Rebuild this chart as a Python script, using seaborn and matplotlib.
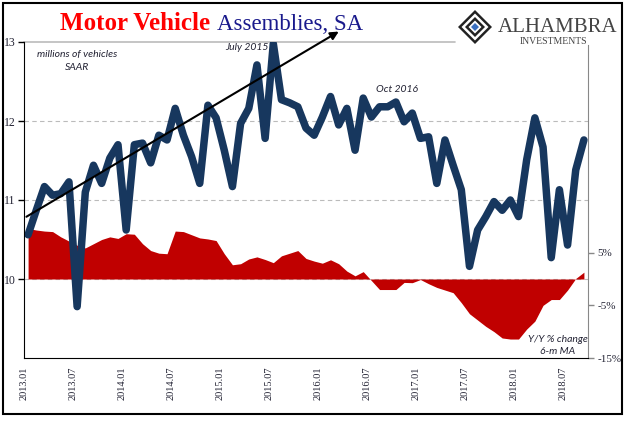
import matplotlib
matplotlib.use("Agg")
import matplotlib.pyplot as plt
from matplotlib.patches import Rectangle, Polygon
import numpy as np
import pandas as pd
import seaborn as sns

# monthly data, 2013.01 - 2018.09
assemblies = [10.56, 10.87, 11.17, 11.06, 11.08, 11.23, 9.65, 11.10, 11.44, 11.21,
              11.53, 11.70, 10.62, 11.70, 11.72, 11.47, 11.82, 11.76, 12.16, 11.82,
              11.55, 11.21, 12.20, 12.04, 11.63, 11.17, 11.97, 12.16, 12.71, 11.78,
              12.98, 12.27, 12.23, 12.18, 11.91, 11.82, 12.05, 12.31, 11.95, 12.16,
              11.63, 12.29, 12.05, 12.18, 12.18, 12.24, 11.99, 12.10, 11.78, 11.80,
              11.21, 11.76, 11.44, 11.13, 10.16, 10.62, 10.79, 10.98, 10.87, 11.00,
              10.79, 11.51, 12.04, 11.67, 10.27, 11.13, 10.43, 11.38, 11.76]
yoy_6m = [9.6, 9.3, 9.1, 9.0, 8.0, 7.2, 6.4, 5.9, 6.7, 7.5,
          8.0, 7.7, 8.6, 8.5, 6.7, 5.4, 4.9, 4.8, 9.1, 9.0,
          8.4, 7.8, 7.6, 7.3, 4.8, 2.7, 2.9, 3.8, 4.2, 3.7,
          3.1, 4.4, 4.9, 5.4, 3.9, 3.4, 3.0, 3.65, 2.9, 1.5,
          0.6, 1.4, -0.3, -2.0, -2.0, -2.0, -0.65, -0.7, -0.1, -0.9,
          -1.6, -2.1, -2.6, -4.5, -6.6, -7.8, -9.0, -10.0, -11.2, -11.4,
          -11.4, -9.5, -8.0, -5.0, -3.9, -3.9, -2.1, 0.1, 1.3]
tick_labels = ["2013.01", "2013.07", "2014.01", "2014.07", "2015.01", "2015.07",
               "2016.01", "2016.07", "2017.01", "2017.07", "2018.01", "2018.07"]
left_ticks = [10, 11, 12, 13]
right_ticks = [-15, -5, 5]

df = pd.DataFrame({"month": np.arange(len(assemblies)) + 0.5,
                   "assemblies": assemblies, "yoy": yoy_6m})

sns.set_style("white")
plt.rcParams["font.family"] = ["Liberation Serif", "DejaVu Serif"]

BLUE = "#17375E"
RED = "#C00000"
TXT = "#222233"

fig = plt.figure(figsize=(6.41, 4.21), dpi=100)
ax = fig.add_axes([24 / 641, 1 - 358 / 421, 564 / 641, 316 / 421])
ax2 = ax.twinx()
ax.set_zorder(ax2.get_zorder() + 1)
ax.patch.set_visible(False)

# red area on right axis
ax2.fill_between(df["month"], 0, df["yoy"], color=RED, linewidth=0, zorder=2)
for g in [0, 15, 30]:
    ax2.axhline(g, color="#bbbbbb", lw=0.8, ls=(0, (4, 3)), zorder=1)
ax2.axhline(45, xmin=0, xmax=0.765, color="#bbbbbb", lw=1.2, zorder=1, clip_on=False)
ax2.set_ylim(-15, 45)
ax2.set_yticks(right_ticks)
ax2.set_yticklabels([f"{t}%" for t in right_ticks], fontsize=8, color=TXT)

# blue line on left axis
sns.lineplot(data=df, x="month", y="assemblies", ax=ax, color=BLUE, lw=5.4,
             solid_capstyle="round", solid_joinstyle="round", legend=False)
ax.set_xlim(0, 69)
ax.set_ylim(9, 13)
ax.set_yticks(left_ticks)
ax.set_yticklabels([str(t) for t in left_ticks], fontsize=8.5, color=TXT)
ax.set_xticks(np.arange(0, 67, 6))
ax.set_xticklabels(tick_labels, rotation=90, fontsize=7.5, color=TXT)
ax.set_xlabel("")
ax.set_ylabel("")

for a in (ax, ax2):
    a.spines["top"].set_visible(False)
ax.spines["right"].set_visible(False)
ax2.spines["left"].set_visible(False)
ax2.spines["bottom"].set_visible(False)
ax2.spines["right"].set_color("#888888")
ax2.spines["right"].set_bounds(-15, 44.4)
ax.spines["left"].set_color("black")
ax.spines["bottom"].set_color("black")
ax.tick_params(axis="both", direction="out", length=4, width=1, color="black", pad=2)
ax2.tick_params(axis="y", direction="out", length=4, width=1, color="#888888", pad=3)

# trend arrow
ax.annotate("", xy=(38.8, 13.15), xytext=(0, 10.77),
            arrowprops=dict(arrowstyle="-|>", color="black", lw=1.5, mutation_scale=12),
            annotation_clip=False)

ital = dict(family=["Lato", "DejaVu Sans"], style="italic", fontsize=7.5, color=TXT,
            ha="center", va="center")
fig.text(77 / 641, 1 - 54 / 421, "millions of vehicles", **ital)
fig.text(77 / 641, 1 - 67 / 421, "SAAR", **ital)
fig.text(247 / 641, 1 - 48 / 421, "July 2015", **ital)
fig.text(397 / 641, 1 - 90 / 421, "Oct 2016", **ital)
fig.text(558 / 641, 1 - 339 / 421, "Y/Y % change", **ital)
fig.text(558 / 641, 1 - 351 / 421, "6-m MA", **ital)

# title
fig.text(60 / 641, 1 - 30 / 421, "Motor Vehicle", fontsize=18, fontweight="bold",
         color="#FF0000", va="baseline")
fig.text(217 / 641, 1 - 30 / 421, "Assemblies, SA", fontsize=16.5, color="#1A1A8C",
         va="baseline")

# logo
cx, cy = 475 / 641, 1 - 27 / 421
for r, c in [(17, "#222222"), (13.5, "white"), (10, "#222222"), (6.5, "white"), (4, "#3A6FBF")]:
    rx, ry = r / 641, r / 421
    fig.patches.append(Polygon([(cx - rx, cy), (cx, cy + ry), (cx + rx, cy), (cx, cy - ry)],
                               closed=True, facecolor=c, edgecolor="none",
                               transform=fig.transFigure))
fig.text(498 / 641, 1 - 32 / 421, "ALHAMBRA", fontsize=15, color="#444444", va="baseline")
fig.text(553 / 641, 1 - 44 / 421, "INVESTMENTS", fontsize=7, color="#444444",
         va="baseline", ha="center")

# outer frame
fig.patches.append(Rectangle((3 / 641, 7 / 421), 619 / 641, 411 / 421, fill=False,
                             edgecolor="black", lw=1.5, transform=fig.transFigure))

fig.savefig("out.png", dpi=100)
